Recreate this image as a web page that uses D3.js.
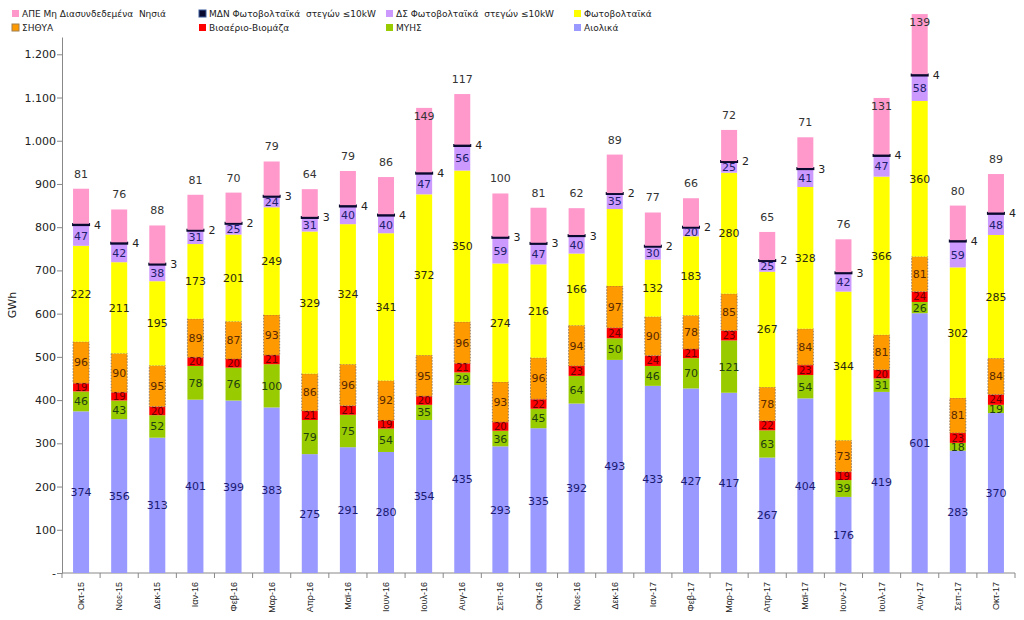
<!DOCTYPE html>
<html>
<head>
<meta charset="utf-8">
<script src="https://cdn.jsdelivr.net/npm/d3@7"></script>
<style>
  html, body { margin: 0; padding: 0; background: #fff; }
  svg { display: block; font-family: "DejaVu Sans", Verdana, sans-serif; }
  .pre { white-space: pre; }
</style>
</head>
<body>
<svg id="chart" width="1024" height="620"></svg>
<script>
// ---------- DATA ----------
const months = ["Οκτ-15","Νοε-15","Δεκ-15","Ιαν-16","Φεβ-16","Μαρ-16","Απρ-16","Μαϊ-16","Ιουν-16","Ιουλ-16","Αυγ-16","Σεπ-16","Οκτ-16","Νοε-16","Δεκ-16","Ιαν-17","Φεβ-17","Μαρ-17","Απρ-17","Μαϊ-17","Ιουν-17","Ιουλ-17","Αυγ-17","Σεπ-17","Οκτ-17"];
const aiolika   = [374,356,313,401,399,383,275,291,280,354,435,293,335,392,493,433,427,417,267,404,176,419,601,283,370];
const myhs      = [46,43,52,78,76,100,79,75,54,35,29,36,45,64,50,46,70,121,63,54,39,31,26,18,19];
const bioaerio  = [19,19,20,20,20,21,21,21,19,20,21,20,22,23,24,24,21,23,22,23,19,20,24,23,24];
const sithya    = [96,90,95,89,87,93,86,96,92,95,96,93,96,94,97,90,78,85,78,84,73,81,81,81,84];
const fotovolt  = [222,211,195,173,201,249,329,324,341,372,350,274,216,166,178,132,183,280,267,328,344,366,360,302,285];
const dsStegon  = [47,42,38,31,25,24,31,40,40,47,56,59,47,40,35,30,20,25,25,41,42,47,58,59,48];
const mdnStegon = [4,4,3,2,2,3,3,4,4,4,4,3,3,3,2,2,2,2,2,3,3,4,4,4,4];
const apeMdn    = [81,76,88,81,70,79,64,79,86,149,117,100,81,62,89,77,66,72,65,71,76,131,139,80,89];
const hiddenLabels = [["fotovolt","Δεκ-16"]];
const yTicks = [0,100,200,300,400,500,600,700,800,900,1000,1100,1200];

const series = [
  {key:"aiolika",  name:"Αιολικά",                          values:aiolika,  fill:"#9999FF", text:"#1a1a70"},
  {key:"myhs",     name:"ΜΥΗΣ",                             values:myhs,     fill:"#99CC00", text:"#1f4010"},
  {key:"bioaerio", name:"Βιοαέριο-Βιομάζα",                 values:bioaerio, fill:"#FF0000", text:"#6a0000"},
  {key:"sithya",   name:"ΣΗΘΥΑ",                            values:sithya,   fill:"#FF9900", text:"#5a2a00"},
  {key:"fotovolt", name:"Φωτοβολταϊκά",                     values:fotovolt, fill:"#FFFF00", text:"#2a2a10"},
  {key:"ds",       name:"ΔΣ Φωτοβολταϊκά  στεγών ≤10kW",    values:dsStegon, fill:"#CC99FF", text:"#20206a"},
  {key:"mdn",      name:"ΜΔΝ Φωτοβολταϊκά  στεγών ≤10kW",   values:mdnStegon,fill:"#0a0a30", text:"#222"},
  {key:"ape",      name:"ΑΠΕ Μη Διασυνδεδεμένα  Νησιά",     values:apeMdn,   fill:"#FF99CC", text:"#333"}
];

// ---------- LAYOUT ----------
const svg = d3.select("#chart");
const plotLeft = 62, plotRight = 1015, plotTop = 37, plotBottom = 573;

const rows = months.map((m,i) => {
  const r = {month:m};
  series.forEach(s => r[s.key] = s.values[i]);
  return r;
});
const stacked = d3.stack().keys(series.map(s => s.key))(rows);

const x = d3.scaleBand().domain(months).range([plotLeft, plotRight]).paddingInner(0.58).paddingOuter(0.29);
const y = d3.scaleLinear().domain([0, 1240]).range([plotBottom, plotTop]);

// Axes
const fmt = v => v === 0 ? "-" : d3.format(",")(v).replace(/,/g, ".");
const yAxis = svg.append("g").attr("transform", `translate(${plotLeft},0)`)
  .call(d3.axisLeft(y).tickValues(yTicks).tickFormat(fmt).tickSize(5).tickSizeOuter(0));
yAxis.select(".domain").attr("stroke", "#888");
yAxis.selectAll(".tick line").attr("stroke", "#888");
yAxis.selectAll(".tick text").attr("font-size", 11).attr("fill", "#222").attr("x", -6)
  .attr("font-family", "DejaVu Sans, sans-serif");

// x axis line + ticks at band boundaries
const xg = svg.append("g");
xg.append("line").attr("x1", plotLeft).attr("x2", plotRight).attr("y1", plotBottom).attr("y2", plotBottom).attr("stroke", "#888");
const step = x.step();
const bounds = d3.range(months.length + 1).map(i => plotLeft + i * step);
xg.selectAll("line.tk").data(bounds).join("line").attr("class","tk")
  .attr("x1", d => d).attr("x2", d => d).attr("y1", plotBottom).attr("y2", plotBottom + 5).attr("stroke", "#888");
xg.selectAll("text.xl").data(months).join("text").attr("class","xl")
  .attr("transform", d => `translate(${x(d) + x.bandwidth()/2 + 3},${plotBottom + 9}) rotate(-90)`)
  .attr("text-anchor", "end").attr("font-size", 9).attr("fill", "#222")
  .attr("font-family", "Liberation Sans, Arial, sans-serif")
  .text(d => d);

// y title
svg.append("text").attr("transform", `translate(16,${(plotTop+plotBottom)/2}) rotate(-90)`)
  .attr("text-anchor", "middle").attr("font-size", 11).attr("fill", "#222").text("GWh");

// Bars
const bw = x.bandwidth();
stacked.forEach((layer, li) => {
  const s = series[li];
  const g = svg.append("g");
  if (s.key === "mdn") {
    g.selectAll("rect").data(layer).join("rect")
      .attr("x", d => x(d.data.month) - 1)
      .attr("y", d => (y(d[0]) + y(d[1]))/2 - 1.5)
      .attr("width", bw + 2)
      .attr("height", 3)
      .attr("fill", s.fill);
  } else {
    g.selectAll("rect").data(layer).join("rect")
      .attr("x", d => x(d.data.month))
      .attr("y", d => y(d[1]))
      .attr("width", bw)
      .attr("height", d => y(d[0]) - y(d[1]))
      .attr("fill", s.fill)
      .attr("stroke", s.key === "sithya" ? "#7a6a5a" : null)
      .attr("stroke-width", s.key === "sithya" ? 0.8 : null)
      .attr("stroke-dasharray", s.key === "sithya" ? "1.5,1.5" : null);
  }
});

// Labels
stacked.forEach((layer, li) => {
  const s = series[li];
  const g = svg.append("g").attr("font-size", s.key === "bioaerio" ? 10 : 11).attr("fill", s.text);
  const data = layer.filter(d => !hiddenLabels.some(h => h[0] === s.key && h[1] === d.data.month));
  g.selectAll("text").data(data).join("text")
    .attr("x", d => s.key === "mdn" ? x(d.data.month) + bw + 5 : x(d.data.month) + bw/2)
    .attr("y", d => {
      if (s.key === "ape") {
        const v = d[1] - d[0];
        return v >= 120 ? y(d[1]) + 8 : y(d[1]) - 15;
      }
      return (y(d[0]) + y(d[1]))/2;
    })
    .attr("dy", "0.36em")
    .attr("text-anchor", s.key === "mdn" ? "start" : "middle")
    .text(d => d.data[s.key]);
});

// Legend
const legendItems = [
  ["ape", 0, 0], ["mdn", 1, 0], ["ds", 2, 0], ["fotovolt", 3, 0],
  ["sithya", 0, 1], ["bioaerio", 1, 1], ["myhs", 2, 1], ["aiolika", 3, 1]
];
const colX = [12, 199, 386, 574];
const rowY = [14, 28];
const lg = svg.append("g").attr("font-size", 9).attr("fill", "#222");
legendItems.forEach(([k, c, r]) => {
  const s = series.find(t => t.key === k);
  const gx = colX[c], gy = rowY[r];
  lg.append("rect").attr("x", gx).attr("y", gy - 4).attr("width", 7).attr("height", 7)
    .attr("fill", s.fill)
    .attr("stroke", k === "mdn" ? "#3a5a9a" : (k === "sithya" ? "#a08050" : null))
    .attr("stroke-width", k === "mdn" || k === "sithya" ? 1 : null);
  lg.append("text").attr("class", "pre").attr("x", gx + 10).attr("y", gy).attr("dy", "0.32em").text(s.name);
});
</script>
</body>
</html>
